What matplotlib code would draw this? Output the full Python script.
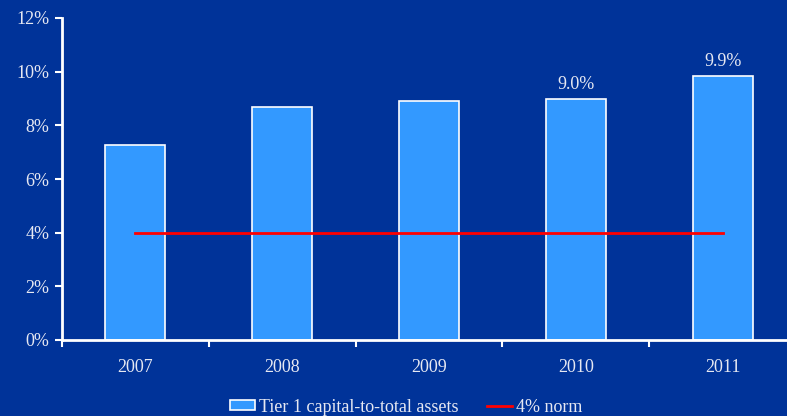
import matplotlib
matplotlib.use("Agg")
import matplotlib.pyplot as plt
import numpy as np

years = ["2007", "2008", "2009", "2010", "2011"]
tier1_ratio = [7.25, 8.7, 8.9, 9.0, 9.85]
norm = [4, 4, 4, 4, 4]
labels = {3: "9.0%", 4: "9.9%"}

bg = "#003399"
bar_color = "#3399FF"
text_color = "#E6E8F2"

plt.rcParams["font.family"] = ["Liberation Serif", "DejaVu Serif"]

fig = plt.figure(figsize=(7.87, 4.16), dpi=100, facecolor=bg)
ax = fig.add_axes([62 / 787, 1 - 340 / 416, 734 / 787, 322 / 416])
ax.set_facecolor(bg)

x = np.arange(len(years))
bars = ax.bar(x, tier1_ratio, width=0.41, color=bar_color, edgecolor="white",
              linewidth=1.2, label="Tier 1 capital-to-total assets", zorder=2)
line, = ax.plot(x, norm, color="#FF0000", linewidth=2, label="4% norm", zorder=3)

for i, txt in labels.items():
    ax.text(x[i], tier1_ratio[i] + 0.2, txt, ha="center", va="bottom",
            color=text_color, fontsize=13)

ax.set_xlim(-0.5, 4.5)
ax.set_ylim(0, 12)
ax.set_yticks(range(0, 13, 2))
ax.set_yticklabels([f"{v}%" for v in range(0, 13, 2)])
ax.set_xticks(x)
ax.set_xticklabels(years)
ax.set_xticks(np.arange(-0.5, 4.6, 1), minor=True)

for s in ["top", "right"]:
    ax.spines[s].set_visible(False)
for s in ["left", "bottom"]:
    ax.spines[s].set_color("white")
    ax.spines[s].set_linewidth(2)

ax.tick_params(axis="y", colors="white", labelcolor=text_color, labelsize=13,
               length=5, width=1.5, direction="out", pad=4)
ax.tick_params(axis="x", which="major", length=0, labelcolor=text_color,
               labelsize=13, pad=14)
ax.tick_params(axis="x", which="minor", length=5, width=1.5, color="white",
               direction="out")

leg = fig.legend([bars, line], ["Tier 1 capital-to-total assets", "4% norm"],
                 loc="center", bbox_to_anchor=(406 / 787, 1 - 407 / 416), ncol=2,
                 frameon=False, fontsize=13, handlelength=1.4,
                 handleheight=0.5, columnspacing=1.6, handletextpad=0.2)
for t in leg.get_texts():
    t.set_color(text_color)

fig.savefig("out.png", dpi=100, facecolor=bg)
